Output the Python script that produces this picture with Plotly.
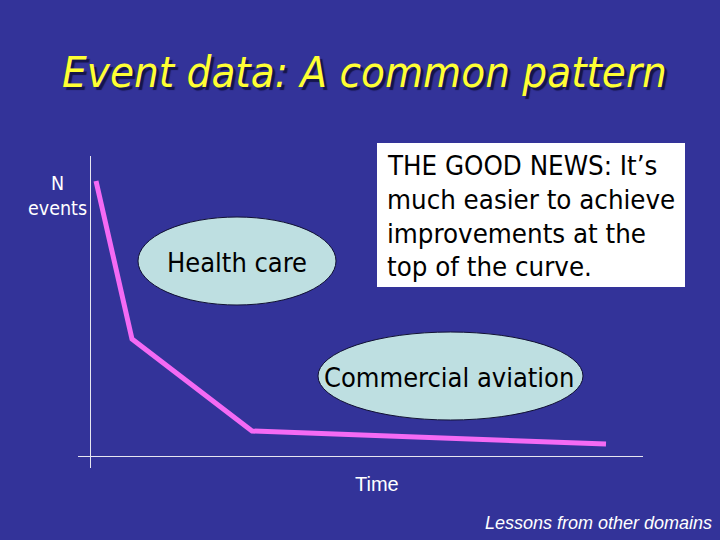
import plotly.graph_objects as go

# ---- data (abstract units: 100 px per unit) ----
time_vals = [0.06, 0.42, 1.62, 5.16]
n_events = [2.75, 1.17, 0.25, 0.12]

title_text = "Event data: A common pattern"
y_label = ["N", "events"]
x_label = "Time"
domains = ["Health care", "Commercial aviation"]
news_lines = ["THE GOOD NEWS: It’s", "much easier to achieve",
              "improvements at the", "top of the curve."]
footer = "Lessons from other domains"

W, H = 720, 540
BG = "#333399"
TAHOMA = "DejaVu Sans Condensed, DejaVu Sans, sans-serif"


def px(x):
    return x / W


def py(y):
    return 1 - y / H


fig = go.Figure()
fig.add_trace(go.Scatter(x=time_vals, y=n_events, mode="lines",
                         line=dict(color="#F46AF4", width=5),
                         hoverinfo="skip", showlegend=False))

shapes = []
# ellipses
shapes.append(dict(type="circle", xref="paper", yref="paper",
                   x0=px(138), x1=px(336), y0=py(305), y1=py(217),
                   fillcolor="#BEDFE1", line=dict(color="#111133", width=1), layer="above"))
shapes.append(dict(type="circle", xref="paper", yref="paper",
                   x0=px(318), x1=px(583), y0=py(420), y1=py(332),
                   fillcolor="#BEDFE1", line=dict(color="#111133", width=1), layer="above"))
# text box
shapes.append(dict(type="rect", xref="paper", yref="paper",
                   x0=px(377), x1=px(685), y0=py(287), y1=py(143),
                   fillcolor="white", line=dict(width=0), layer="above"))

ann = []
ann.append(dict(text=title_text, x=px(364), y=py(72), xref="paper", yref="paper",
                showarrow=False, xanchor="center", yanchor="middle",
                font=dict(family=TAHOMA, size=43.5, color="#FFFF33", style="italic",
                          shadow="3px 3px 1px #15154a")))
ann.append(dict(text=y_label[0], x=px(57), y=py(183), xref="paper", yref="paper",
                showarrow=False, xanchor="center", yanchor="middle",
                font=dict(family=TAHOMA, size=19.5, color="white")))
ann.append(dict(text=y_label[1], x=px(57), y=py(208), xref="paper", yref="paper",
                showarrow=False, xanchor="center", yanchor="middle",
                font=dict(family=TAHOMA, size=19.5, color="white")))
ann.append(dict(text=domains[0], x=px(237), y=py(262), xref="paper", yref="paper",
                showarrow=False, xanchor="center", yanchor="middle",
                font=dict(family=TAHOMA, size=27, color="black")))
ann.append(dict(text=domains[1], x=px(449), y=py(377), xref="paper", yref="paper",
                showarrow=False, xanchor="center", yanchor="middle",
                font=dict(family=TAHOMA, size=27, color="black")))
for i, line in enumerate(news_lines):
    ann.append(dict(text=line, x=px(385), y=py(166 + 33.5 * i), xref="paper", yref="paper",
                    showarrow=False, xanchor="left", yanchor="middle",
                    font=dict(family=TAHOMA, size=27.4, color="black")))
ann.append(dict(text=x_label, x=px(377), y=py(484), xref="paper", yref="paper",
                showarrow=False, xanchor="center", yanchor="middle",
                font=dict(family="Liberation Sans, Arial, sans-serif", size=20, color="white")))
ann.append(dict(text=footer, x=px(714), y=py(523), xref="paper", yref="paper",
                showarrow=False, xanchor="right", yanchor="middle",
                font=dict(family="Liberation Sans, Arial, sans-serif", size=18,
                          color="white", style="italic")))

axis_common = dict(showgrid=False, showticklabels=False, ticks="", showline=False,
                   zeroline=True, zerolinecolor="#E6E6F0", zerolinewidth=1, fixedrange=True)

fig.update_layout(
    width=W, height=H,
    margin=dict(l=0, r=0, t=0, b=0),
    paper_bgcolor=BG, plot_bgcolor=BG,
    xaxis=dict(range=[-0.12, 5.53], domain=[px(78), px(643)], **axis_common),
    yaxis=dict(range=[-0.12, 3.0], domain=[py(468), py(156)], **axis_common),
    shapes=shapes, annotations=ann, showlegend=False,
)

fig.write_html("out.html", config={"displayModeBar": False},
               post_script="document.body.style.margin='0';document.body.style.overflow='hidden';")
